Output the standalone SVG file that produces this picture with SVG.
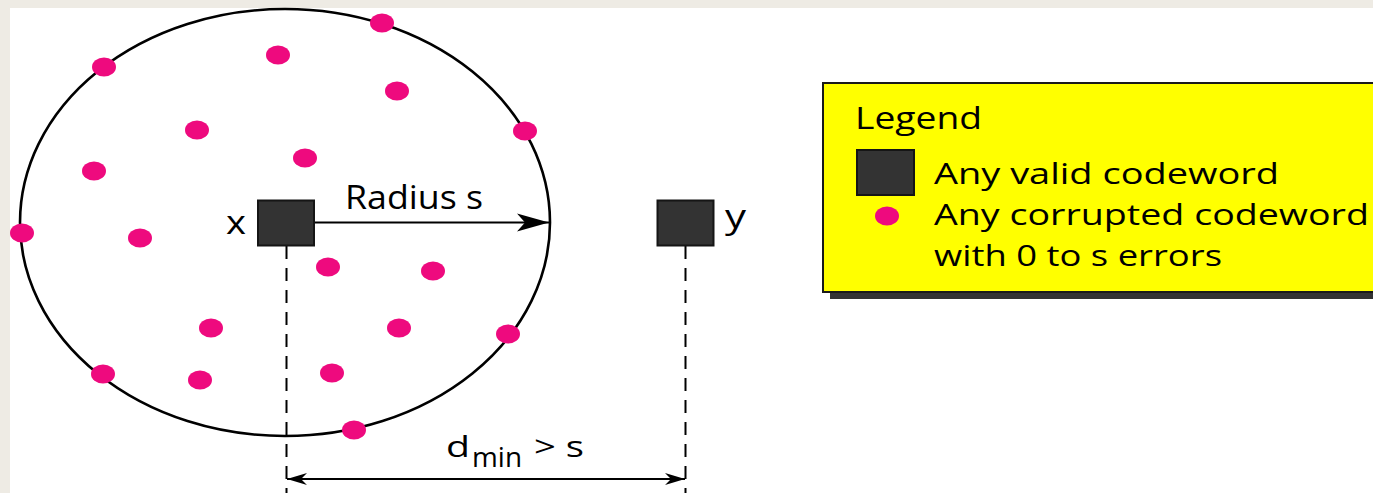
<svg xmlns="http://www.w3.org/2000/svg" width="1373" height="493" viewBox="0 0 1373 493">
  <style>
    .t { font-family: "Open Sans", "Liberation Sans", sans-serif; fill: #000; }
    .dot { fill: #EE0A7E; }
    .cw { fill: #333333; stroke: #151515; stroke-width: 2; }
    .dash { stroke: #000; stroke-width: 2; stroke-dasharray: 13 9; fill: none; }
  </style>
  <defs>
    <marker id="arrowBig" viewBox="-32 -11 34 22" refX="0" refY="0" markerWidth="34" markerHeight="22" markerUnits="userSpaceOnUse" orient="auto">
      <path d="M0,0 L-32,-9 L-24,0 L-32,9 Z" fill="#000"/>
    </marker>
    <marker id="arrowSmall" viewBox="-22 -8 24 16" refX="0" refY="0" markerWidth="24" markerHeight="16" markerUnits="userSpaceOnUse" orient="auto-start-reverse">
      <path d="M0,0 L-20,-6 L-14,0 L-20,6 Z" fill="#000"/>
    </marker>
  </defs>
  <rect x="0" y="0" width="1373" height="493" fill="#EEEBE4"/>
  <rect x="10" y="8" width="1363" height="485" fill="#FFFFFF"/>

  <g id="sphere">
    <ellipse cx="285" cy="222.5" rx="265" ry="213.5" fill="none" stroke="#000" stroke-width="2.6"/>
  </g>

  <g id="corrupted-codewords">
    <ellipse class="dot" cx="382" cy="23" rx="12" ry="9.5"/>
    <ellipse class="dot" cx="104" cy="67" rx="12" ry="9.5"/>
    <ellipse class="dot" cx="278" cy="55" rx="12" ry="9.5"/>
    <ellipse class="dot" cx="397" cy="91" rx="12" ry="9.5"/>
    <ellipse class="dot" cx="197" cy="130" rx="12" ry="9.5"/>
    <ellipse class="dot" cx="525" cy="131" rx="12" ry="9.5"/>
    <ellipse class="dot" cx="94" cy="171" rx="12" ry="9.5"/>
    <ellipse class="dot" cx="305" cy="158" rx="12" ry="9.5"/>
    <ellipse class="dot" cx="22" cy="233" rx="12" ry="9.5"/>
    <ellipse class="dot" cx="140" cy="238" rx="12" ry="9.5"/>
    <ellipse class="dot" cx="328" cy="267" rx="12" ry="9.5"/>
    <ellipse class="dot" cx="433" cy="271" rx="12" ry="9.5"/>
    <ellipse class="dot" cx="211" cy="328" rx="12" ry="9.5"/>
    <ellipse class="dot" cx="399" cy="328" rx="12" ry="9.5"/>
    <ellipse class="dot" cx="508" cy="334" rx="12" ry="9.5"/>
    <ellipse class="dot" cx="103" cy="374" rx="12" ry="9.5"/>
    <ellipse class="dot" cx="200" cy="380" rx="12" ry="9.5"/>
    <ellipse class="dot" cx="332" cy="373" rx="12" ry="9.5"/>
    <ellipse class="dot" cx="354" cy="430" rx="12" ry="9.5"/>
  </g>

  <g id="connectors">
    <line x1="314" y1="222.5" x2="549" y2="222.5" stroke="#000" stroke-width="2" marker-end="url(#arrowBig)"/>
    <line class="dash" x1="286.5" y1="246" x2="286.5" y2="493"/>
    <line class="dash" x1="685.5" y1="246" x2="685.5" y2="493"/>
    <line x1="287" y1="479" x2="685" y2="479" stroke="#000" stroke-width="1.8" marker-start="url(#arrowSmall)" marker-end="url(#arrowSmall)"/>
  </g>

  <g id="node-x">
    <rect class="cw" x="258" y="200.5" width="56" height="45"/>
    <text class="t" x="226" y="234" font-size="33" textLength="20" lengthAdjust="spacingAndGlyphs">x</text>
  </g>
  <g id="node-y">
    <rect class="cw" x="657.5" y="200.5" width="56" height="45"/>
    <text class="t" x="725" y="228" font-size="33" textLength="21" lengthAdjust="spacingAndGlyphs">y</text>
  </g>

  <g id="label-radius">
    <text class="t" x="345" y="209" font-size="32" textLength="138" lengthAdjust="spacingAndGlyphs">Radius s</text>
  </g>
  <g id="label-dmin">
    <text class="t" x="446" y="457" font-size="29" textLength="24" lengthAdjust="spacingAndGlyphs">d</text>
    <text class="t" x="472" y="467" font-size="28" textLength="50" lengthAdjust="spacingAndGlyphs">min</text>
    <text class="t" x="534" y="457" font-size="29" textLength="50" lengthAdjust="spacingAndGlyphs">&gt; s</text>
  </g>

  <g id="legend">
    <rect x="830" y="90" width="560" height="209" fill="#333333"/>
    <rect x="823" y="83" width="560" height="209" fill="#FFFF00" stroke="#1a1a1a" stroke-width="2"/>
    <text class="t" x="855" y="129" font-size="31" textLength="127" lengthAdjust="spacingAndGlyphs">Legend</text>
    <rect class="cw" x="857" y="150" width="57" height="45"/>
    <text class="t" x="934" y="184" font-size="30" textLength="345" lengthAdjust="spacingAndGlyphs">Any valid codeword</text>
    <ellipse class="dot" cx="887" cy="216" rx="12" ry="9.5"/>
    <text class="t" x="934" y="225" font-size="30" textLength="435" lengthAdjust="spacingAndGlyphs">Any corrupted codeword</text>
    <text class="t" x="934" y="266" font-size="30" textLength="288" lengthAdjust="spacingAndGlyphs">with 0 to s errors</text>
  </g>
</svg>
